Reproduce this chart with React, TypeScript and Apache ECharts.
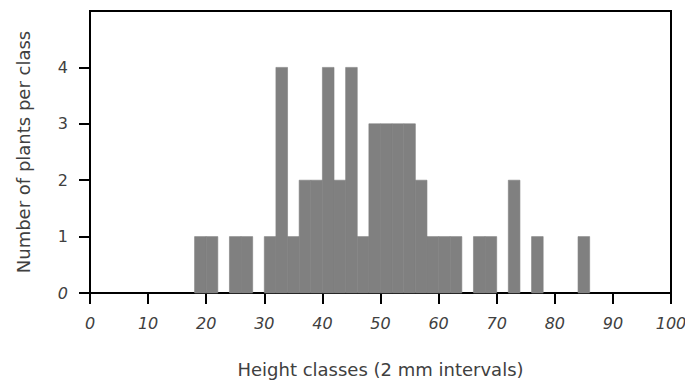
import React, { useEffect, useRef } from "react";
import * as echarts from "echarts";

const binStarts = [18, 20, 24, 26, 30, 32, 34, 36, 38, 40, 42, 44, 46, 48, 50, 52, 54, 56, 58, 60, 62, 66, 68, 72, 76, 84];
const counts = [1, 1, 1, 1, 1, 4, 1, 2, 2, 4, 2, 4, 1, 3, 3, 3, 3, 2, 1, 1, 1, 1, 1, 2, 1, 1];
const binWidth = 2;
const yTicks = [0, 1, 2, 3, 4];
const xTitle = "Height classes (2 mm intervals)";
const yTitle = "Number of plants per class";

const FONT = "'DejaVu Sans', 'Open Sans', sans-serif";
const TXT = "#404040";

export default function App() {
  const ref = useRef<HTMLDivElement>(null);
  useEffect(() => {
    if (!ref.current) return;
    const chart = echarts.init(ref.current, null, { renderer: "svg" });
    const data = binStarts.map((s, i) => [s, counts[i]]);
    chart.setOption({
      animation: false,
      backgroundColor: "#fff",
      grid: {
        left: 90,
        right: 14,
        top: 11,
        bottom: 94,
        containLabel: false,
        outerBoundsMode: "none",
        show: true,
        borderColor: "#000",
        borderWidth: 2,
        backgroundColor: "transparent",
      },
      xAxis: {
        type: "value",
        min: 0,
        max: 100,
        interval: 10,
        name: xTitle,
        nameLocation: "middle",
        nameGap: 67,
        nameTextStyle: { fontFamily: FONT, fontSize: 18, color: TXT },
        axisLine: { show: true, lineStyle: { color: "#000", width: 2 } },
        axisTick: { show: true, length: 11, lineStyle: { color: "#000", width: 2 } },
        axisLabel: { fontFamily: FONT, fontSize: 16, color: TXT, fontStyle: "italic", margin: 22 },
        splitLine: { show: false },
      },
      yAxis: {
        type: "value",
        min: 0,
        max: 5,
        interval: 1,
        name: yTitle,
        nameLocation: "middle",
        nameRotate: 90,
        nameGap: 58,
        nameTextStyle: { fontFamily: FONT, fontSize: 18, color: TXT },
        axisLine: { show: true, lineStyle: { color: "#000", width: 2 } },
        axisTick: { show: true, length: 11, customValues: yTicks, lineStyle: { color: "#000", width: 2 } },
        axisLabel: {
          customValues: yTicks,
          fontFamily: FONT,
          fontSize: 16,
          color: TXT,
          margin: 22,
          formatter: (v: number) => (v === 0 ? "{i|0}" : String(v)),
          rich: { i: { fontStyle: "italic", fontFamily: FONT, fontSize: 16, color: TXT } },
        },
        splitLine: { show: false },
      },
      series: [
        {
          type: "custom",
          data,
          encode: { x: 0, y: 1 },
          renderItem: (params: any, api: any) => {
            const start = api.value(0);
            const c = api.value(1);
            const p0 = api.coord([start, c]);
            const p1 = api.coord([start + binWidth, 0]);
            return {
              type: "rect",
              shape: { x: p0[0], y: p0[1], width: p1[0] - p0[0], height: p1[1] - p0[1] },
              style: { fill: "#808080", stroke: "#808080", lineWidth: 0.6 },
            };
          },
        },
      ],
    });
    return () => chart.dispose();
  }, []);
  return <div ref={ref} style={{ width: 685, height: 387, position: "absolute", left: 0, top: 0 }} />;
}
